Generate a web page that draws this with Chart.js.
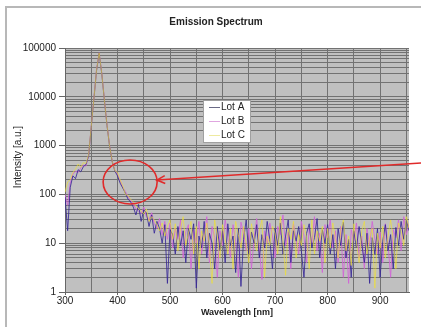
<!DOCTYPE html>
<html>
<head>
<meta charset="utf-8">
<script src="https://cdn.jsdelivr.net/npm/chart.js@4"></script>
<style>
  body { margin: 0; background: #fff; }
  #wrap { position: relative; width: 421px; height: 327px; }
  #frame { position: absolute; left: 5px; top: 6px; right: 0; bottom: 0; border-top: 2px solid #b8b8b8; border-left: 2px solid #b8b8b8; }
  canvas { position: absolute; left: 0; top: 0; }
</style>
</head>
<body>
<div id="wrap">
  <div id="frame"></div>
  <canvas id="spectrum" width="421" height="327"></canvas>
</div>
<script>
// wavelengths (nm)
const wavelengths = [
  300, 305, 310, 315, 320, 325, 330, 335, 340, 345,
  350, 355, 360, 365, 370, 375, 380, 385, 390, 395,
  400, 405, 410, 415, 420, 425, 430, 435, 440, 445,
  450, 455, 460, 465, 470, 475, 480, 485, 490, 495,
  500, 505, 510, 515, 520, 525, 530, 535, 540, 545,
  550, 555, 560, 565, 570, 575, 580, 585, 590, 595,
  600, 605, 610, 615, 620, 625, 630, 635, 640, 645,
  650, 655, 660, 665, 670, 675, 680, 685, 690, 695,
  700, 705, 710, 715, 720, 725, 730, 735, 740, 745,
  750, 755, 760, 765, 770, 775, 780, 785, 790, 795,
  800, 805, 810, 815, 820, 825, 830, 835, 840, 845,
  850, 855, 860, 865, 870, 875, 880, 885, 890, 895,
  900, 905, 910, 915, 920, 925, 930, 935, 940, 945,
  950, 955
];

const lotA = [
  90, 18, 140, 240, 210, 320, 290, 370, 410, 620,
  2400, 9000, 34000, 78000, 30000, 8500, 2600, 950, 460, 300,
  240, 170, 135, 105, 80, 70, 55, 38, 62, 28,
  48, 42, 22, 38, 16, 28, 20, 10, 24, 1.5,
  19, 15, 6, 22, 9, 18, 4, 20, 12, 25,
  1.2, 14, 8, 28, 5, 16, 10, 3, 22, 7,
  18, 4, 25, 9, 14, 2.5, 20, 1.3, 12, 30,
  6, 17, 10, 24, 5, 15, 8, 28, 12, 3,
  20, 9, 26, 6, 14, 30, 4, 18, 11, 22,
  7, 2, 16, 25, 8, 13, 32, 5, 19, 10,
  24, 6, 15, 3, 20, 9, 27, 5, 12, 2,
  18, 8, 22, 10, 4, 16, 1.5, 13, 6, 20,
  2, 11, 24, 7, 15, 3, 21, 9, 28, 12,
  30, 18
];

const lotB = [
  100, 60, 170, 260, 300, 280, 350, 400, 380, 640,
  2500, 9200, 35000, 80000, 31000, 8800, 2700, 980, 480, 310,
  260, 190, 140, 115, 90, 75, 65, 50, 45, 40,
  55, 35, 30, 42, 25, 20, 32, 15, 28, 12,
  26, 8, 20, 12, 30, 5, 17, 24, 3, 19,
  10, 28, 6, 15, 35, 4, 22, 13, 2, 18,
  9, 30, 14, 5, 24, 11, 2, 27, 16, 7,
  20, 3, 12, 32, 8, 1.8, 18, 10, 26, 14,
  5, 22, 15, 38, 9, 17, 3, 25, 12, 6,
  28, 14, 4, 20, 10, 35, 7, 16, 2.5, 24,
  13, 30, 8, 18, 4, 22, 2, 15, 1.5, 19,
  11, 26, 5, 14, 3, 20, 9, 28, 12, 6,
  17, 4, 25, 10, 2, 19, 13, 30, 7, 35,
  15, 25
];

const lotC = [
  110, 180, 200, 280, 330, 420, 360, 450, 430, 660,
  2450, 9100, 34500, 79000, 30500, 8600, 2650, 960, 470, 305,
  280, 200, 150, 100, 95, 80, 70, 58, 52, 45,
  40, 50, 28, 35, 30, 24, 18, 26, 14, 22,
  30, 12, 25, 7, 20, 35, 9, 16, 28, 6,
  22, 3, 18, 11, 26, 8, 1.5, 30, 14, 5,
  24, 12, 6, 20, 3, 28, 15, 8, 22, 10,
  4, 25, 13, 7, 18, 30, 2, 14, 9, 22,
  16, 6, 35, 11, 2.2, 20, 12, 28, 5, 15,
  9, 24, 13, 3, 30, 6, 18, 11, 22, 4,
  20, 8, 26, 12, 5, 18, 30, 7, 14, 3.5,
  25, 10, 4, 18, 28, 6, 13, 20, 1.2, 16,
  8, 22, 5, 14, 30, 12, 3, 26, 18, 9,
  35, 20
];

const seriesNames = ["Lot A", "Lot B", "Lot C"];

// axis ticks
const xTicks = [300, 350, 400, 450, 500, 550, 600, 650, 700, 750, 800, 850, 900, 950];
const xLabels = [300, 400, 500, 600, 700, 800, 900];
const yTicks = [
  1, 2, 3, 4, 5, 6, 7, 8, 9,
  10, 20, 30, 40, 50, 60, 70, 80, 90,
  100, 200, 300, 400, 500, 600, 700, 800, 900,
  1000, 2000, 3000, 4000, 5000, 6000, 7000, 8000, 9000,
  10000, 20000, 30000, 40000, 50000, 60000, 70000, 80000, 90000,
  100000
];
const yLabels = [1, 10, 100, 1000, 10000, 100000];

// annotation: circle around the shoulder, arrow pointing at it
const circleAt = { x: 424, y: 180 };
const arrowFrom = { x: 978, y: 440 };
const arrowTo = { x: 475, y: 197 };

const colors = ["rgba(55, 40, 150, 0.85)", "rgba(210, 100, 215, 0.85)", "rgba(240, 225, 50, 0.65)"];
const legendColors = ["#6a6a86", "#e0a6e0", "#eeeaa0"];

function toPoints(ys) {
  return ys.map((y, i) => ({ x: wavelengths[i], y: y }));
}

const plotBackground = {
  id: "plotBackground",
  beforeDraw(chart) {
    const { ctx, chartArea } = chart;
    ctx.save();
    ctx.fillStyle = "#c0c0c0";
    ctx.fillRect(chartArea.left, chartArea.top, chartArea.right - chartArea.left, chartArea.bottom - chartArea.top);
    ctx.restore();
  }
};

const extras = {
  id: "extras",
  afterDraw(chart) {
    const { ctx, chartArea } = chart;
    const xs = chart.scales.x;
    const ys = chart.scales.y;

    // y axis title
    ctx.save();
    ctx.translate(18, 157);
    ctx.rotate(-Math.PI / 2);
    ctx.font = "10px 'Liberation Sans', Arial, sans-serif";
    ctx.fillStyle = "#222";
    ctx.textAlign = "center";
    ctx.textBaseline = "middle";
    ctx.fillText("Intensity [a.u.]", 0, 0);
    ctx.restore();

    // legend box
    const lx = chartArea.left + 138;
    const ly = chartArea.top + 52;
    ctx.save();
    ctx.fillStyle = "#fff";
    ctx.fillRect(lx, ly, 47, 42);
    ctx.strokeStyle = "#a0a0a0";
    ctx.lineWidth = 1;
    ctx.strokeRect(lx + 0.5, ly + 0.5, 47, 42);
    ctx.font = "10px 'Liberation Sans', Arial, sans-serif";
    ctx.textBaseline = "middle";
    seriesNames.forEach((name, i) => {
      const yy = ly + 7 + i * 14;
      ctx.strokeStyle = legendColors[i];
      ctx.beginPath();
      ctx.moveTo(lx + 6, yy + 0.5);
      ctx.lineTo(lx + 17, yy + 0.5);
      ctx.stroke();
      ctx.fillStyle = "#222";
      ctx.fillText(name, lx + 18, yy);
    });
    ctx.restore();

    // red circle and arrow
    ctx.save();
    ctx.strokeStyle = "#e02a2a";
    ctx.lineWidth = 1.6;
    ctx.beginPath();
    ctx.ellipse(xs.getPixelForValue(circleAt.x), ys.getPixelForValue(circleAt.y), 27, 22, 0, 0, Math.PI * 2);
    ctx.stroke();
    const x1 = xs.getPixelForValue(arrowFrom.x), y1 = ys.getPixelForValue(arrowFrom.y);
    const x2 = xs.getPixelForValue(arrowTo.x), y2 = ys.getPixelForValue(arrowTo.y);
    ctx.beginPath();
    ctx.moveTo(x1, y1);
    ctx.lineTo(x2, y2);
    ctx.stroke();
    const ang = Math.atan2(y2 - y1, x2 - x1);
    ctx.beginPath();
    ctx.moveTo(x2 - 9 * Math.cos(ang - 0.45), y2 - 9 * Math.sin(ang - 0.45));
    ctx.lineTo(x2, y2);
    ctx.lineTo(x2 - 9 * Math.cos(ang + 0.45), y2 - 9 * Math.sin(ang + 0.45));
    ctx.stroke();
    ctx.restore();
  }
};

const ctx = document.getElementById("spectrum").getContext("2d");

new Chart(ctx, {
  type: "line",
  data: {
    datasets: [
      { label: seriesNames[0], data: toPoints(lotA), borderColor: colors[0], order: 2 },
      { label: seriesNames[1], data: toPoints(lotB), borderColor: colors[1], order: 3 },
      { label: seriesNames[2], data: toPoints(lotC), borderColor: colors[2], order: 1 }
    ]
  },
  options: {
    responsive: false,
    animation: false,
    devicePixelRatio: 1,
    layout: { padding: { left: 23, right: 12, top: 0, bottom: 0 } },
    elements: {
      point: { radius: 0 },
      line: { borderWidth: 1, tension: 0 }
    },
    plugins: {
      legend: { display: false },
      tooltip: { enabled: false },
      title: {
        display: true,
        text: "Emission Spectrum",
        color: "#222",
        font: { family: "'Liberation Sans', Arial, sans-serif", size: 10, weight: "bold" },
        padding: { top: 16, bottom: 20 }
      }
    },
    scales: {
      x: {
        type: "linear",
        min: 300,
        max: 955,
        afterBuildTicks: (axis) => { axis.ticks = xTicks.map(v => ({ value: v })); },
        afterFit: (axis) => { axis.height = 35; },
        border: { color: "#666", width: 1 },
        grid: {
          color: "#727272",
          lineWidth: 1,
          tickLength: 3,
          tickColor: (c) => xLabels.includes(c.tick.value) ? "#666" : "rgba(0,0,0,0)"
        },
        ticks: {
          autoSkip: false,
          maxRotation: 0,
          padding: 0,
          color: "#222",
          font: { family: "'Liberation Sans', Arial, sans-serif", size: 10 },
          callback: (v) => xLabels.includes(v) ? String(v) : ""
        },
        title: {
          display: true,
          text: "Wavelength [nm]",
          color: "#222",
          font: { family: "'Liberation Sans', Arial, sans-serif", size: 9, weight: "bold" },
          padding: { top: 0, bottom: 9 }
        }
      },
      y: {
        type: "logarithmic",
        min: 1,
        max: 100000,
        afterBuildTicks: (axis) => { axis.ticks = yTicks.map(v => ({ value: v })); },
        afterFit: (axis) => { axis.width = 42; },
        border: { color: "#666", width: 1 },
        grid: {
          color: "#727272",
          lineWidth: 1,
          tickLength: 6,
          tickColor: (c) => yLabels.includes(c.tick.value) ? "#666" : "rgba(0,0,0,0)"
        },
        ticks: {
          autoSkip: false,
          padding: 3,
          color: "#222",
          font: { family: "'Liberation Sans', Arial, sans-serif", size: 10 },
          callback: (v) => yLabels.includes(v) ? String(v) : ""
        }
      }
    }
  },
  plugins: [plotBackground, extras]
});
</script>
</body>
</html>
